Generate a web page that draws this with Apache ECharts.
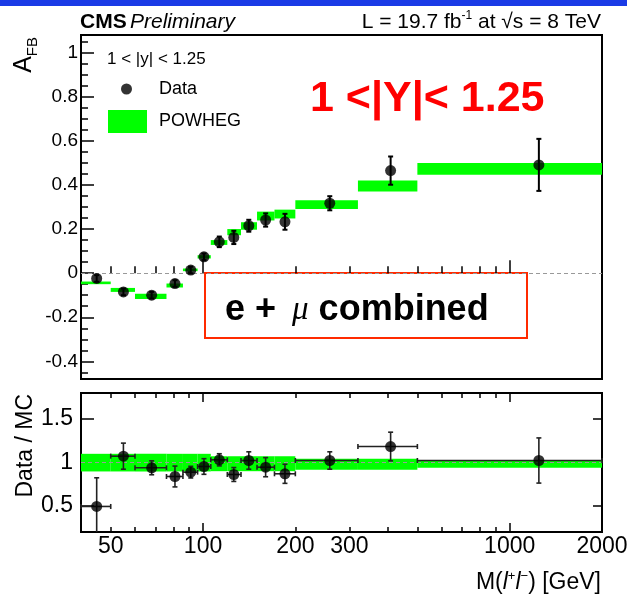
<!DOCTYPE html>
<html><head><meta charset="utf-8">
<script src="https://cdn.jsdelivr.net/npm/echarts@6/dist/echarts.min.js"></script>
<style>html,body{margin:0;padding:0;background:#fff}#c{width:627px;height:596px}</style>
</head><body><div id="c"></div>
<script>
// ---------- data ----------
const binEdges = [40, 50, 60, 76, 86, 96, 106, 120, 133, 150, 171, 200, 320, 500, 2000];
const massPoints = [45, 55, 68, 81, 91.2, 100.7, 113, 126, 141, 160, 185, 259, 409, 1245];
const afbData = [-0.024, -0.085, -0.100, -0.047, 0.014, 0.074, 0.142, 0.162, 0.215, 0.241, 0.233, 0.317, 0.465, 0.491];
const afbErr = [0.015, 0.015, 0.015, 0.015, 0.015, 0.015, 0.024, 0.030, 0.027, 0.030, 0.036, 0.032, 0.064, 0.118];
const powhegAfb = [-0.044, -0.076, -0.105, -0.056, 0.015, 0.074, 0.139, 0.186, 0.214, 0.259, 0.268, 0.311, 0.395, 0.473];
const powhegHalfWidth = [0.006, 0.009, 0.012, 0.009, 0.006, 0.0075, 0.011, 0.014, 0.017, 0.020, 0.020, 0.020, 0.025, 0.027];
const ratioData = [0.494, 1.073, 0.939, 0.839, 0.889, 0.954, 1.031, 0.862, 1.023, 0.946, 0.870, 1.023, 1.184, 1.023];
const ratioErr = [0.33, 0.15, 0.08, 0.12, 0.067, 0.09, 0.07, 0.08, 0.10, 0.11, 0.11, 0.10, 0.165, 0.26];
const bandLow = [0.897, 0.897, 0.897, 0.897, 0.897, 0.897, 0.90, 0.90, 0.90, 0.90, 0.90, 0.916, 0.916, 0.94];
const bandHigh = [1.10, 1.10, 1.10, 1.10, 1.10, 1.10, 1.072, 1.072, 1.072, 1.072, 1.072, 1.042, 1.042, 1.03];
const xMinorTicks = [50, 60, 70, 80, 90, 200, 300, 400, 500, 600, 700, 800, 900];
const xMajorTicks = [100, 1000];
const xTickLabels = [50, 100, 200, 300, 1000, 2000];
const afbMajorTicks = [-0.4, -0.2, 0, 0.2, 0.4, 0.6, 0.8, 1];
const afbMinorTicks = [-0.45, -0.35, -0.3, -0.25, -0.15, -0.1, -0.05, 0.05, 0.1, 0.15, 0.25, 0.3, 0.35, 0.45, 0.5, 0.55, 0.65, 0.7, 0.75, 0.85, 0.9, 0.95, 1.05];
const ratioTicks = [0.5, 1, 1.5];

// ---------- build ----------
const FONT = 'Liberation Sans, Arial, Helvetica, sans-serif';
const AFB_MIN = -0.48, AFB_MAX = 1.08, R_MIN = 0.2, R_MAX = 1.8;
const bins = binEdges.slice(0, -1).map((lo, i) => [lo, binEdges[i + 1]]);
const powhegRows = bins.map((b, i) => [b[0], b[1], powhegAfb[i], powhegHalfWidth[i]]);
const bandRows = bins.map((b, i) => [b[0], b[1], bandLow[i], bandHigh[i]]);
const afbRows = massPoints.map((m, i) => [m, afbData[i], afbErr[i]]);
const ratioRows = massPoints.map((m, i) => [m, ratioData[i], ratioErr[i], bins[i][0], bins[i][1]]);

const clampY = (v, lo, hi) => Math.max(lo, Math.min(hi, v));

function xAxisDef(grid, pos, ticks, len, labels) {
  return {
    type: 'log', logBase: 10, gridIndex: grid, position: pos, min: 40, max: 2000,
    axisLine: { show: false }, splitLine: { show: false }, minorTick: { show: false },
    axisTick: { show: true, inside: true, length: len, customValues: ticks, lineStyle: { color: '#000', width: 1.5 } },
    axisLabel: labels ? { show: true, customValues: labels, fontSize: 23, color: '#000', fontFamily: FONT, margin: 3, formatter: v => String(Math.round(v)) } : { show: false }
  };
}
function yAxisDef(grid, pos, min, max, ticks, len, labels, fs, margin) {
  return {
    type: 'value', gridIndex: grid, position: pos, min: min, max: max,
    axisLine: { show: false }, splitLine: { show: false }, minorTick: { show: false },
    axisTick: { show: true, inside: true, length: len, customValues: ticks, lineStyle: { color: '#000', width: 1.5 } },
    axisLabel: labels ? { show: true, customValues: labels, fontSize: fs, color: '#000', fontFamily: FONT, margin: margin,
      formatter: v => String(Math.round(v * 100) / 100) } : { show: false }
  };
}

function boxRender(params, api) {
  const lo = api.value(0), hi = api.value(1), a = api.value(2), b = api.value(3);
  const isBand = params.seriesName === 'MC band';
  const yTop = isBand ? b : a + b, yBot = isBand ? a : a - b;
  const p1 = api.coord([lo, yTop]), p2 = api.coord([hi, yBot]);
  return { type: 'rect', shape: { x: p1[0], y: p1[1], width: p2[0] - p1[0], height: Math.max(1, p2[1] - p1[1]) },
    style: { fill: '#00ff00' } };
}
function afbErrRender(params, api) {
  const m = api.value(0), v = api.value(1), e = api.value(2);
  const t = api.coord([m, v + e]), b = api.coord([m, v - e]);
  const st = { stroke: '#000', lineWidth: 2 };
  return { type: 'group', children: [
    { type: 'line', shape: { x1: t[0], y1: t[1], x2: b[0], y2: b[1] }, style: st },
    { type: 'line', shape: { x1: t[0] - 2.5, y1: t[1], x2: t[0] + 2.5, y2: t[1] }, style: st },
    { type: 'line', shape: { x1: b[0] - 2.5, y1: b[1], x2: b[0] + 2.5, y2: b[1] }, style: st }
  ] };
}
function ratioErrRender(params, api) {
  const m = api.value(0), v = api.value(1), e = api.value(2), lo = api.value(3), hi = api.value(4);
  const topV = v + e, botV = v - e;
  const t = api.coord([m, clampY(topV, R_MIN, R_MAX)]), b = api.coord([m, clampY(botV, R_MIN, R_MAX)]);
  const l = api.coord([lo, v]), r = api.coord([hi, v]);
  const st = { stroke: '#222', lineWidth: 1.6 };
  const ch = [
    { type: 'line', shape: { x1: t[0], y1: t[1], x2: b[0], y2: b[1] }, style: st },
    { type: 'line', shape: { x1: l[0], y1: l[1], x2: r[0], y2: r[1] }, style: st },
    { type: 'line', shape: { x1: l[0], y1: l[1] - 2.5, x2: l[0], y2: l[1] + 2.5 }, style: st },
    { type: 'line', shape: { x1: r[0], y1: r[1] - 2.5, x2: r[0], y2: r[1] + 2.5 }, style: st }
  ];
  if (topV <= R_MAX) ch.push({ type: 'line', shape: { x1: t[0] - 2.5, y1: t[1], x2: t[0] + 2.5, y2: t[1] }, style: st });
  if (botV >= R_MIN) ch.push({ type: 'line', shape: { x1: b[0] - 2.5, y1: b[1], x2: b[0] + 2.5, y2: b[1] }, style: st });
  return { type: 'group', children: ch };
}

const dashed = (val) => ({
  silent: true, symbol: ['none', 'none'], animation: false, z: 5,
  label: { show: false }, lineStyle: { color: '#999', type: [4, 3], width: 1 },
  data: [{ yAxis: val }]
});

const chart = echarts.init(document.getElementById('c'), null, { renderer: 'canvas' });
chart.setOption({
  animation: false,
  backgroundColor: '#fff',
  textStyle: { fontFamily: FONT },
  grid: [
    { left: 81, top: 35, width: 521, height: 344, show: true, borderColor: '#000', borderWidth: 2, backgroundColor: 'transparent', outerBoundsMode: 'none', containLabel: false },
    { left: 81, top: 393, width: 521, height: 139, show: true, borderColor: '#000', borderWidth: 2, backgroundColor: 'transparent', outerBoundsMode: 'none', containLabel: false }
  ],
  xAxis: [
    xAxisDef(0, 'bottom', xMinorTicks, 7, null),
    xAxisDef(0, 'bottom', xMajorTicks, 13, null),
    xAxisDef(1, 'bottom', xMinorTicks, 5, xTickLabels),
    xAxisDef(1, 'bottom', xMajorTicks, 9, null),
    xAxisDef(1, 'top', xMinorTicks, 5, null),
    xAxisDef(1, 'top', xMajorTicks, 9, null)
  ],
  yAxis: [
    yAxisDef(0, 'left', AFB_MIN, AFB_MAX, afbMajorTicks, 13, afbMajorTicks, 19, 3),
    yAxisDef(0, 'left', AFB_MIN, AFB_MAX, afbMinorTicks, 7, null),
    yAxisDef(1, 'left', R_MIN, R_MAX, ratioTicks, 13, ratioTicks, 23, 8),
    yAxisDef(1, 'right', R_MIN, R_MAX, ratioTicks, 9, null)
  ],
  legend: [
    { data: [{ name: 'Data', icon: 'circle' }], left: 121, top: 80, itemWidth: 11, itemHeight: 11, padding: 0, selectedMode: false,
      textStyle: { fontSize: 18, color: '#000', fontFamily: FONT, padding: [0, 0, 0, 22] } },
    { data: [{ name: 'POWHEG', icon: 'rect' }], left: 108, top: 110, itemWidth: 39, itemHeight: 23, padding: 0, selectedMode: false,
      textStyle: { fontSize: 18, color: '#000', fontFamily: FONT, padding: [0, 0, 0, 7] } }
  ],
  series: [
    { name: 'POWHEG', type: 'custom', xAxisIndex: 0, yAxisIndex: 0, z: 2, renderItem: boxRender,
      itemStyle: { color: '#00ff00' }, encode: { x: [0, 1], y: [2] }, data: powhegRows, markLine: dashed(0) },
    { name: 'Data err', type: 'custom', xAxisIndex: 0, yAxisIndex: 0, z: 6, renderItem: afbErrRender,
      encode: { x: [0], y: [1] }, data: afbRows },
    { name: 'Data', type: 'scatter', xAxisIndex: 0, yAxisIndex: 0, z: 7, symbol: 'circle', symbolSize: 11,
      itemStyle: { color: '#000' }, data: afbRows.map(r => [r[0], r[1]]) },
    { name: 'MC band', type: 'custom', xAxisIndex: 2, yAxisIndex: 2, z: 2, renderItem: boxRender,
      itemStyle: { color: '#00ff00' }, encode: { x: [0, 1], y: [2, 3] }, data: bandRows, markLine: dashed(1) },
    { name: 'Ratio err', type: 'custom', xAxisIndex: 2, yAxisIndex: 2, z: 6, renderItem: ratioErrRender,
      encode: { x: [0], y: [1] }, data: ratioRows },
    { name: 'Ratio', type: 'scatter', xAxisIndex: 2, yAxisIndex: 2, z: 7, symbol: 'circle', symbolSize: 11,
      itemStyle: { color: '#000' }, data: ratioRows.map(r => [r[0], r[1]]) }
  ],
  graphic: [
    { type: 'rect', left: 0, top: 0, shape: { width: 627, height: 6 }, style: { fill: '#1a3be6' }, silent: true },
    { type: 'text', x: 80, y: 22, silent: true, style: { text: '{b|CMS} {i|Preliminary}', verticalAlign: 'middle', align: 'left',
      rich: { b: { fontSize: 21, fontWeight: 'bold', fontFamily: FONT, fill: '#000' }, i: { fontSize: 21, fontStyle: 'italic', fontFamily: FONT, fill: '#000' } } } },
    { type: 'text', x: 601, y: 22, silent: true, style: { text: '{n|L = 19.7 fb}{s|-1}{n| at √s = 8 TeV}', verticalAlign: 'middle', align: 'right',
      rich: { n: { fontSize: 21, lineHeight: 24, fontFamily: FONT, fill: '#000' }, s: { fontSize: 12, lineHeight: 12, verticalAlign: 'top', fontFamily: FONT, fill: '#000' } } } },
    { type: 'text', x: 107, y: 59, silent: true, style: { text: '1 < |y| < 1.25', font: '17px ' + FONT, fill: '#000', verticalAlign: 'middle', align: 'left' } },
    { type: 'text', x: 310, y: 99, silent: true, style: { text: '1 <|Y|< 1.25', font: 'bold 43px ' + FONT, fill: '#ff0000', verticalAlign: 'middle', align: 'left' } },
    { type: 'rect', silent: true, shape: { x: 205, y: 273, width: 322, height: 65 }, style: { fill: 'transparent', stroke: '#ff2a00', lineWidth: 2 } },
    { type: 'text', x: 225, y: 310, silent: true, style: { text: '{b|e + }{m|μ}{b| combined}', verticalAlign: 'middle', align: 'left',
      rich: { b: { fontSize: 36, fontWeight: 'bold', fontFamily: FONT, fill: '#000' },
        m: { fontSize: 33, fontStyle: 'italic', fontFamily: 'Liberation Serif, DejaVu Serif, serif', fill: '#000', padding: [0, 0, 0, 6] } } } },
    { type: 'text', x: 24, y: 37, rotation: Math.PI / 2, silent: true, style: { text: '{a|A}{s|FB}', verticalAlign: 'middle', align: 'right',
      rich: { a: { fontSize: 25, lineHeight: 32, fontFamily: FONT, fill: '#000' }, s: { fontSize: 15, lineHeight: 15, verticalAlign: 'bottom', fontFamily: FONT, fill: '#000' } } } },
    { type: 'text', x: 26, y: 394, rotation: Math.PI / 2, silent: true, style: { text: 'Data / MC', font: '23px ' + FONT, fill: '#000', verticalAlign: 'middle', align: 'right' } },
    { type: 'text', x: 601, y: 583, silent: true, style: { text: '{n|M(}{i|l}{s|+}{i|l}{s|−}{n|) [GeV]}', verticalAlign: 'middle', align: 'right',
      rich: { n: { fontSize: 23, lineHeight: 26, fontFamily: FONT, fill: '#000' }, i: { fontSize: 23, lineHeight: 26, fontStyle: 'italic', fontFamily: FONT, fill: '#000' },
        s: { fontSize: 13, lineHeight: 13, verticalAlign: 'top', fontFamily: FONT, fill: '#000' } } } }
  ]
});
</script></body></html>
